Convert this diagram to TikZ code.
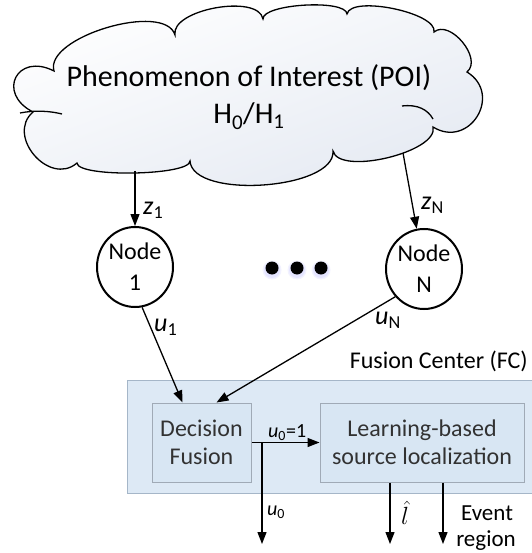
\documentclass[tikz,border=0pt]{standalone}
\usepackage{fontspec}
\setmainfont{Carlito}
\usetikzlibrary{arrows.meta,calc,shapes.geometric}
\definecolor{cloudB}{RGB}{228,233,242}
\definecolor{fcfill}{RGB}{221,233,245}
\definecolor{fcdraw}{RGB}{165,182,200}
\definecolor{boxfill}{RGB}{216,230,243}
\definecolor{boxdraw}{RGB}{160,170,182}
\definecolor{boxtext}{RGB}{50,50,50}
\tikzset{
  arr/.style={draw=black, line width=1.3pt, -{Triangle[length=12pt,width=9pt]}},
  nodec/.style={ellipse, draw=black, line width=2pt, fill=white, minimum width=76pt, minimum height=80pt, inner sep=0pt, align=center, font=\fontsize{24}{31}\selectfont},
  fcstyle/.style={rectangle, draw=fcdraw, fill=fcfill, line width=1pt, inner sep=0pt},
  procbox/.style={rectangle, draw=boxdraw, fill=boxfill, line width=1pt, inner sep=0pt, align=center, text=boxtext, font=\fontsize{24}{28}\selectfont},
  lbl/.style={inner sep=0pt, font=\fontsize{26}{30}\selectfont},
  slbl/.style={inner sep=0pt, font=\fontsize{20}{24}\selectfont},
  dotc/.style={fill=black}
}
\begin{document}
\begin{tikzpicture}[x=1pt,y=-1pt]
\path[use as bounding box, fill=white] (0,0) rectangle (531,553);

% cloud
\coordinate (c1) at (54,71);
\coordinate (c2) at (175,35);
\coordinate (c3) at (263,19);
\coordinate (c4) at (347,14);
\coordinate (c5) at (434,32);
\coordinate (c6) at (467,72);
\coordinate (c7) at (433,127);
\coordinate (c8) at (333,151);
\coordinate (c9) at (190,161);
\coordinate (c10) at (77,163);
\coordinate (c11) at (33,112);
\path[draw=black, line width=1.3pt, top color=white, bottom color=cloudB, shading angle=20]
  (c1) .. controls ($(c1)!0.28!90:(c2)$) and ($(c2)!0.28!-90:(c1)$) .. (c2)
       .. controls ($(c2)!0.29!90:(c3)$) and ($(c3)!0.29!-90:(c2)$) .. (c3)
       .. controls ($(c3)!0.18!90:(c4)$) and ($(c4)!0.18!-90:(c3)$) .. (c4)
       .. controls ($(c4)!0.22!90:(c5)$) and ($(c5)!0.22!-90:(c4)$) .. (c5)
       .. controls ($(c5)!0.40!90:(c6)$) and ($(c6)!0.40!-90:(c5)$) .. (c6)
       .. controls ($(c6)!0.66!90:(c7)$) and ($(c7)!0.66!-90:(c6)$) .. (c7)
       .. controls ($(c7)!0.25!90:(c8)$) and ($(c8)!0.25!-90:(c7)$) .. (c8)
       .. controls ($(c8)!0.27!90:(c9)$) and ($(c9)!0.27!-90:(c8)$) .. (c9)
       .. controls ($(c9)!0.13!90:(c10)$) and ($(c10)!0.13!-90:(c9)$) .. (c10)
       .. controls ($(c10)!0.54!90:(c11)$) and ($(c11)!0.54!-90:(c10)$) .. (c11)
       .. controls ($(c11)!0.90!90:(c1)$) and ($(c1)!0.90!-90:(c11)$) .. (c1) -- cycle;
\draw[line width=1.3pt] (20,113) .. controls (35,110) and (50,111) .. (62,114);
\draw[line width=1.3pt] (402,106) .. controls (418,104) and (428,110) .. (433,119);

\node[anchor=base, inner sep=0pt, font=\fontsize{30}{36}\selectfont] (poi) at (249,87) {Phenomenon of Interest (POI)};
\node[anchor=base, inner sep=0pt, font=\fontsize{30}{36}\selectfont] (hyp) at (249,124) {H\textsubscript{0}/H\textsubscript{1}};

% sensor nodes
\node[nodec] (n1) at (135,267) {Node\\1};
\node[nodec] (nN) at (424,269) {Node\\N};

% dots
\foreach \x/\nm in {272/d1,297/d2,321/d3}{
  \fill[blue!40, opacity=0.12] (\x,270) circle (9.5);
  \fill[blue!40, opacity=0.15] (\x,270) circle (8);
  \fill[dotc] (\x,268) circle (6.5) coordinate (\nm);
}

% connectors from cloud
\coordinate (zs1) at (135,171);
\coordinate (zsN) at (403,153);
\draw[arr] (zs1) -- (n1);
\draw[arr] (zsN) -- (nN);
\node[lbl, anchor=west] (lz1) at (143,210) {\textit{z}\textsubscript{1}};
\node[lbl, anchor=west] (lzN) at (421,205) {\textit{z}\textsubscript{N}};

% fusion center
\node[fcstyle, minimum width=408pt, minimum height=113pt] (fc) at (331,436.5) {};
\node[anchor=base east, inner sep=0pt, font=\fontsize{24}{28}\selectfont] (fcl) at (528,368) {Fusion Center (FC)};
\node[procbox, minimum width=99pt, minimum height=79pt] (df) at (201.5,442.5) {Decision\\Fusion};
\node[procbox, minimum width=204pt, minimum height=79pt] (lb) at (422,442.5) {Learning-based\\source localization};

% node to FC
\draw[arr] (n1.280) -- ($(df.north)+(-19,0)$);
\draw[arr] (nN.224) -- ($(df.north)+(15,0)$);
\node[lbl, anchor=west] (lu1) at (154,327) {\textit{u}\textsubscript{1}};
\node[lbl, anchor=west] (luN) at (375,320) {\textit{u}\textsubscript{N}};

% inside FC
\draw[arr] (df.east) -- (lb.west);
\node[slbl, anchor=base west] (lu01) at (268,437) {\textit{u}\textsubscript{0}=1};
\coordinate (j) at (262,442.5);
\coordinate (e0) at (262,544);
\draw[arr] (j) -- (e0);
\node[slbl, anchor=west] (lu0) at (267,512) {\textit{u}\textsubscript{0}};

\coordinate (el) at (390,544);
\coordinate (ee) at (443,544);
\draw[arr] (lb.south -| el) -- (el);
\draw[arr] (lb.south -| ee) -- (ee);
\node[inner sep=0pt, font=\fontsize{25}{28}\selectfont] (llh) at (405,513) {$\hat{l}$};
\node[inner sep=0pt, font=\fontsize{23}{28}\selectfont] (lev) at (487,513) {Event};
\node[inner sep=0pt, font=\fontsize{23}{28}\selectfont] (lreg) at (486,541) {region};
\end{tikzpicture}
\end{document}
